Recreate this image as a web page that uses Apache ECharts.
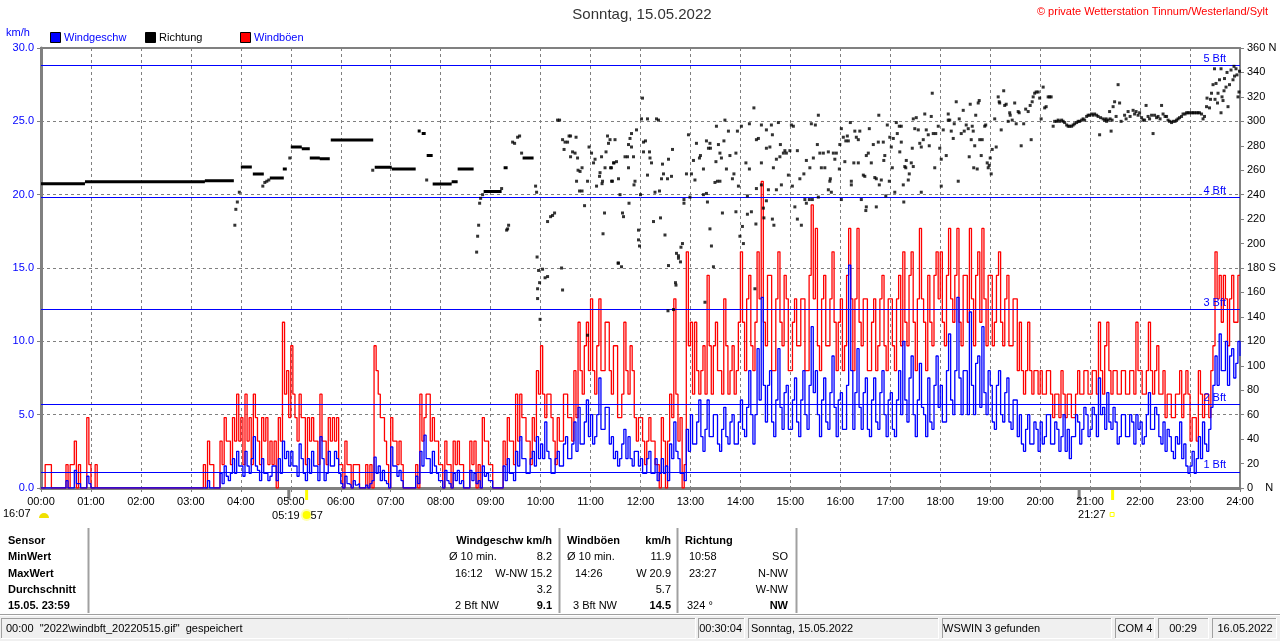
<!DOCTYPE html>
<html><head><meta charset="utf-8">
<script src="https://cdn.jsdelivr.net/npm/echarts/dist/echarts.min.js"></script>
<style>html,body{margin:0;padding:0;background:#fff;overflow:hidden}#c{width:1280px;height:641px}</style>
</head><body><div id="c"></div>
<script>
// ---------- DATA ----------
const stepMinutes = 2.5; // one value every 2.5 minutes, 00:00 .. 24:00 (24 values per hour row)
const windSpeed = [
0,0,0,0,0,0,0,0,0,0,0,0,0.5,0,0,0,1.2,0.3,0.3,0,0,0,0.8,0.3,
0,0,0,0,0,0,0,0,0,0,0,0,0,0,0,0,0,0,0,0,0,0,0,0,
0,0,0,0,0,0,0,0,0,0,0,0,0,0,0,0,0,0,0,0,0,0,0,0,
0,0,0,0,0,0,0,0,0.5,0,0,0,0,0,1.0,0.3,1.5,0.8,0.5,1.0,2.0,1.0,2.5,1.5,
1.5,0.8,2.5,1.5,1.0,2.0,3.5,1.5,1.2,0.5,2.0,1.0,1.0,0.5,0.8,1.5,1.5,0.5,2.0,1.0,3.2,2.0,2.5,1.5,
2.5,1.5,1.5,0.8,3.0,2.0,1.0,0.5,2.0,1.0,2.5,1.5,1.5,0.5,3.5,2.0,0.5,1.0,2.5,1.5,1.5,2.5,2.0,1.0,
0.3,0,0.8,0.3,0.2,0,0.5,0.2,0.3,0,0,0,0.2,0,0.3,0.5,2.1,1.0,1.5,0.5,1.2,0.5,0.3,0,
2.8,1.5,1.5,0.8,1.2,0.5,0,0,0,0,0,0,0.8,0.3,2.5,1.5,3.6,2.0,2.0,1.0,2.5,1.5,1.0,0.5,
0.5,0,1.2,0.5,0.3,0,1.0,0.5,1.2,0.3,0.5,0,0,0,1.2,0.5,1.0,0.3,0.5,0,1.5,0.8,1.0,0.5,
0.5,0,0,0,0,0,1.5,0.5,2.0,1.0,1.0,0.5,2.5,1.5,3.5,2.0,2.0,1.0,1.0,2.0,2.5,1.5,3.5,2.0,
3.0,2.0,4.5,2.5,2.0,1.0,1.0,2.0,2.5,1.5,1.5,3.0,3.5,2.0,2.0,3.0,4.5,2.5,5.5,3.0,3.0,4.5,6.0,3.5,
5.0,3.0,3.5,5.0,7.5,4.0,4.0,5.5,5.5,3.0,3.5,2.0,2.5,1.5,2.0,3.0,4.0,2.0,3.5,2.0,1.5,2.5,2.5,1.5,
2.0,1.0,1.0,2.0,2.5,1.0,1.0,2.0,0.5,1.0,2.0,1.0,1.5,0.5,3.0,2.0,4.5,2.5,2.0,1.0,1.0,0.5,4.0,2.5,
5.0,3.0,3.0,4.5,6.0,3.5,2.5,4.0,6.0,3.5,3.5,5.0,5.0,3.0,2.5,4.0,5.5,3.5,3.0,4.5,5.0,3.0,3.0,4.5,
6.0,4.0,3.5,5.5,8.0,5.0,3.0,5.0,9.5,6.0,13.0,7.0,4.5,7.0,8.0,4.5,3.5,6.0,9.5,5.5,4.0,6.5,7.0,4.0,
4.0,6.0,7.5,4.5,3.5,6.0,8.0,5.0,4.0,7.0,11.0,6.5,8.0,5.0,3.5,6.0,7.5,4.5,4.0,6.5,9.0,5.5,3.5,6.0,
6.5,4.0,4.0,7.0,15.2,8.0,4.0,6.5,9.5,5.5,4.0,6.5,7.5,4.0,3.5,6.0,7.5,4.5,4.0,6.5,8.0,5.0,3.5,6.0,
6.5,4.0,3.5,6.0,8.0,5.0,10.0,6.0,4.5,7.5,9.0,5.0,3.5,6.0,8.5,5.5,5.0,3.5,7.5,4.5,4.0,7.0,9.0,5.5,
7.0,4.5,4.5,8.0,10.5,6.0,5.0,8.0,13.0,7.5,5.0,8.0,8.0,5.0,12.0,7.0,5.0,8.5,9.0,5.5,11.0,6.5,5.0,8.0,
7.0,4.5,4.0,7.0,8.0,5.0,4.5,6.5,7.5,4.5,4.0,6.0,6.0,3.5,5.0,3.0,2.5,4.0,5.0,3.0,3.0,4.5,4.0,2.5,
4.5,3.0,3.5,5.0,5.0,3.0,3.0,4.5,4.0,2.5,3.5,5.0,2.5,4.0,2.0,3.5,3.5,5.0,4.5,3.0,4.0,5.5,5.0,3.5,
4.0,5.5,5.0,3.5,7.5,5.0,5.5,4.0,6.5,4.5,4.0,5.5,4.5,3.0,3.5,5.0,5.0,3.5,3.5,5.0,4.5,3.0,5.0,4.0,
4.5,3.0,3.5,5.0,6.5,4.0,4.0,5.5,5.0,3.5,3.0,4.5,2.5,4.0,3.5,2.5,2.0,3.5,3.0,4.5,2.0,3.0,1.5,1.0,
1.5,2.5,1.0,2.0,3.5,2.0,4.5,3.0,2.5,4.0,5.5,7.0,9.0,7.0,10.5,8.0,8.0,10.0,7.0,9.0,9.5,7.5,8.5,10.0,
9.0];
const windGust = [
0,0,1.6,1.6,1.6,0,0,0,0,0,0,0,1.6,0,1.6,1.6,3.2,0,1.6,0,0,0,4.8,1.6,
0,0,1.6,0,0,0,0,0,0,0,0,0,0,0,0,0,0,0,0,0,0,0,0,0,
0,0,0,0,0,0,0,0,0,0,0,0,0,0,0,0,0,0,0,0,0,0,0,0,
0,0,0,0,0,0,1.6,0,3.2,1.6,1.6,0,0,0,3.2,1.6,4.8,3.2,3.2,1.6,4.8,3.2,6.4,3.2,
4.8,1.6,6.4,3.2,4.8,1.6,6.4,4.8,3.2,1.6,4.8,3.2,4.8,1.6,3.2,1.6,3.2,0,4.8,3.2,11.3,6.4,8.0,4.8,
9.7,6.4,4.8,3.2,6.4,4.8,4.8,1.6,4.8,3.2,4.8,3.2,3.2,1.6,6.4,3.2,3.2,1.6,4.8,3.2,4.8,3.2,4.8,1.6,
1.6,0,3.2,1.6,1.6,0,1.6,1.6,1.6,0,0,0,1.6,0,1.6,0,9.7,8.0,6.4,4.8,4.8,3.2,1.6,0,
4.8,3.2,3.2,1.6,3.2,1.6,0,0,0,0,0,0,1.6,0,6.4,3.2,4.8,6.4,6.4,3.2,4.8,3.2,3.2,1.6,
1.6,0,3.2,1.6,1.6,0,3.2,1.6,3.2,1.6,1.6,0,0,0,3.2,1.6,3.2,0,1.6,0,4.8,3.2,3.2,1.6,
1.6,0,0,0,0,0,3.2,1.6,4.8,3.2,3.2,1.6,6.4,3.2,6.4,4.8,4.8,3.2,3.2,1.6,4.8,3.2,8.0,6.4,
9.7,6.4,4.8,6.4,6.4,4.8,3.2,1.6,4.8,3.2,3.2,6.4,6.4,4.8,4.8,3.2,8.0,4.8,11.3,8.0,6.4,9.7,11.3,8.0,
12.9,8.0,6.4,9.7,12.9,8.0,8.0,11.3,11.3,8.0,6.4,9.7,9.7,4.8,4.8,6.4,11.3,8.0,6.4,9.7,8.0,4.8,3.2,4.8,
4.8,3.2,1.6,3.2,4.8,3.2,3.2,1.6,1.6,0,4.8,3.2,0,3.2,6.4,4.8,12.9,6.4,3.2,4.8,0,1.6,16.1,9.7,
11.3,6.4,11.3,8.0,6.4,8.0,9.7,6.4,14.5,9.7,6.4,9.7,11.3,8.0,8.0,6.4,12.9,9.7,6.4,8.0,9.7,6.4,8.0,11.3,
16.1,11.3,8.0,12.9,14.5,9.7,8.0,11.3,16.1,12.9,20.9,11.3,9.7,14.5,14.5,8.0,8.0,12.9,16.1,11.3,9.7,14.5,12.9,8.0,
8.0,11.3,12.9,9.7,9.7,12.9,12.9,8.0,8.0,14.5,19.3,12.9,17.7,9.7,8.0,12.9,14.5,9.7,9.7,12.9,16.1,11.3,8.0,11.3,
12.9,8.0,9.7,14.5,17.7,12.9,8.0,12.9,17.7,11.3,9.7,12.9,12.9,8.0,8.0,11.3,12.9,8.0,9.7,12.9,14.5,9.7,8.0,12.9,
12.9,9.7,8.0,12.9,14.5,9.7,16.1,11.3,9.7,14.5,16.1,11.3,8.0,12.9,17.7,12.9,11.3,8.0,14.5,11.3,9.7,14.5,16.1,12.9,
16.1,11.3,9.7,14.5,17.7,12.9,11.3,14.5,17.7,11.3,9.7,14.5,14.5,11.3,17.7,12.9,9.7,14.5,16.1,11.3,17.7,12.9,9.7,14.5,
14.5,9.7,11.3,14.5,16.1,11.3,9.7,12.9,14.5,9.7,9.7,12.9,12.9,8.0,11.3,8.0,6.4,8.0,11.3,8.0,6.4,8.0,8.0,6.4,
8.0,6.4,6.4,8.0,8.0,6.4,4.8,6.4,6.4,4.8,8.0,6.4,4.8,6.4,6.4,4.8,4.8,6.4,8.0,6.4,6.4,8.0,8.0,6.4,
6.4,8.0,8.0,6.4,11.3,8.0,6.4,9.7,11.3,8.0,6.4,8.0,8.0,6.4,6.4,8.0,8.0,6.4,6.4,8.0,8.0,6.4,11.3,8.0,
8.0,6.4,6.4,8.0,11.3,8.0,6.4,8.0,9.7,6.4,6.4,8.0,4.8,6.4,6.4,4.8,4.8,6.4,6.4,8.0,4.8,6.4,8.0,6.4,
3.2,4.8,4.8,3.2,8.0,6.4,4.8,6.4,6.4,4.8,8.0,9.7,16.1,12.9,14.5,11.3,14.5,12.9,9.7,12.9,14.5,11.3,11.3,14.5,
14.5];
// steady wind-direction stretches: start hour, end hour, degrees
const dirSegStart = [0.00,0.88,3.28,4.00,4.24,4.58,4.84,5.00,5.22,5.38,5.58,5.80,6.68,7.02,7.54,7.62,7.72,7.84,8.22,8.34,8.86,9.26,9.64];
const dirSegEnd   = [0.88,3.28,3.86,4.22,4.46,4.86,4.92,5.22,5.38,5.58,5.78,6.65,7.02,7.50,7.60,7.70,7.84,8.22,8.34,8.66,9.22,9.34,9.86];
const dirSegDeg   = [249,250.6,251.4,262.6,257,253.6,261,279,277.6,270,269.4,284.8,262.4,261,292,290,272,248.7,250.6,261,242.5,262,270];
// single wind-direction readings: [hour, degrees]
const dirPoints = [
[3.88,215],[3.90,228],[3.93,234],[3.97,242],[4.44,247],[4.48,250],[4.52,251],[4.56,252],[4.98,270],
[6.64,260],[7.72,252],[8.72,193],[8.74,206],[8.76,215],[8.78,233],[8.80,237],[8.84,240],
[9.22,245],[9.32,211],[9.34,212],[9.36,215],[9.44,283],[9.48,282],[9.54,287],[9.58,288],[9.62,274],
[9.90,247],[9.92,242],[9.93,189],[9.96,178],[9.98,168],[9.94,163],[9.94,155],[9.99,138],
[10.04,179],[10.09,172],[10.14,173],[10.14,218],[10.20,222],[10.24,223],[10.28,225],[10.34,301],[10.38,301],
[10.42,180],[10.44,162],[10.44,285],[10.49,283],[10.54,283],[10.57,288],[10.60,288],[10.71,287],[10.47,277],
[10.64,275],[10.69,274],[10.60,271],[10.74,270],[10.75,260],[10.79,259],[10.83,262],[10.72,251],[10.78,243],
[10.83,243],[10.88,231],[10.94,251],[10.97,279],[11.02,274],[11.06,266],[11.09,269],[11.12,247],[11.18,255],
[11.19,258],[11.22,271],[11.23,249],[11.24,251],[11.28,225],[11.29,262],[11.31,275],[11.34,288],[11.36,282],
[11.39,285],[11.40,262],[11.44,251],[11.46,266],[11.49,285],[11.52,267],[11.56,253],[11.25,208],[10.94,125],[11.56,184],
[12.04,319],[12.02,302],[12.14,302],[12.32,302],[12.36,301],[11.82,290],[11.92,293],[11.79,286],[11.76,281],
[11.82,279],[12.06,283],[12.10,284],[12.18,275],[12.06,275],[11.69,271],[11.74,271],[11.86,271],[12.19,270],
[12.22,266],[11.47,266],[11.42,262],[11.76,262],[11.42,251],[11.89,251],[11.87,248],[12.14,256],[12.44,265],
[12.46,257],[12.42,253],[12.54,253],[12.62,255],[12.64,277],[12.56,269],[12.29,242],[12.38,243],[12.00,240],
[11.59,240],[11.77,233],[12.96,289],[12.92,257],[13.02,257],[13.06,268],[13.09,252],[13.12,282],[13.18,270],
[13.20,272],[13.26,261],[13.32,284],[13.39,282],[13.36,278],[13.40,278],[13.52,296],[13.56,281],[13.59,274],
[13.51,267],[13.62,270],[13.59,251],[13.54,251],[13.49,250],[13.32,241],[13.26,240],[13.69,301],[13.76,292],
[13.67,284],[13.79,272],[13.72,261],[13.87,257],[13.84,253],[13.91,274],[13.94,292],[14.02,296],[13.96,247],
[14.14,239],[14.18,298],[14.27,311],[14.32,285],[14.36,286],[14.42,297],[14.52,293],[14.62,297],[14.64,289],
[14.52,278],[14.59,279],[14.76,299],[14.80,281],[14.89,276],[14.86,274],[14.92,274],[14.79,271],[14.72,269],
[14.66,262],[14.42,266],[14.11,266],[14.18,261],[14.32,245],[14.42,248],[14.56,244],[14.72,244],[14.82,248],
[14.96,256],[15.02,297],[15.06,296],[14.99,276],[15.14,276],[15.04,247],[15.19,253],[15.27,257],[15.32,268],
[15.39,262],[15.42,298],[15.46,270],[15.50,297],[15.54,281],[15.56,305],[15.59,274],[15.66,274],[15.62,262],
[15.69,262],[15.76,275],[15.79,251],[15.80,253],[15.76,244],[15.82,242],[15.86,274],[15.89,269],[15.92,274],
[15.98,261],[15.99,281],[16.02,294],[16.06,287],[16.09,267],[16.11,284],[16.16,284],[16.14,288],[16.20,299],
[16.22,251],[16.22,248],[16.29,292],[16.32,287],[16.39,292],[16.36,285],[16.27,266],[16.36,266],[16.46,256],
[16.49,255],[16.52,272],[16.56,274],[16.58,294],[16.62,266],[16.66,281],[16.69,254],[16.72,253],[16.76,283],
[16.77,305],[16.78,248],[16.82,252],[16.86,283],[16.87,268],[16.89,272],[16.94,297],[16.99,287],[17.02,279],
[17.04,262],[16.98,251],[17.06,286],[17.12,299],[17.14,290],[17.19,275],[17.22,283],[17.31,262],[17.27,234],
[17.09,242],[16.91,239],[17.18,296],
[11.64,225],[11.66,222],[11.96,211],[11.96,203],[11.98,198],[12.26,218],[12.40,221],[12.49,207],[12.56,182],
[12.72,192],[12.76,190],[12.76,188],[12.80,185],[12.84,200],[12.81,197],[12.87,236],[12.87,233],[12.99,238],
[12.70,168],[12.71,166],[12.55,145],[12.66,146],[13.39,212],[13.42,198],[13.46,181],[13.34,234],[13.29,152],
[13.64,225],[13.91,226],[13.99,206],[14.04,214],[14.06,200],[14.14,224],[14.22,226],[14.31,216],[14.46,229],
[14.47,221],[14.52,235],[14.64,220],[14.67,215],[15.09,230],[15.14,220],[15.22,215],[15.29,236],[15.38,236],
[15.44,236],[15.32,233],[15.56,238],[16.52,230],[16.51,227],[16.72,230],[16.42,236],[16.02,236],[11.55,184],
[11.62,181],[14.29,163],
[17.22,296],[17.29,263],[17.32,268],[17.36,252],[17.26,248],[17.46,302],[17.52,303],[17.49,294],[17.56,293],
[17.42,266],[17.46,263],[17.38,257],[17.44,278],[17.59,282],[17.62,279],[17.66,285],[17.69,306],[17.62,242],
[17.72,293],[17.76,289],[17.78,280],[17.84,323],[17.82,304],[17.86,290],[17.89,262],[17.91,290],[17.96,296],
[17.99,278],[18.02,247],[18.02,269],[18.06,293],[18.12,272],[18.16,301],[18.19,301],[18.16,306],[18.22,292],
[18.26,286],[18.28,298],[18.32,316],[18.36,251],[18.38,302],[18.42,290],[18.46,309],[18.48,292],[18.52,297],
[18.56,294],[18.58,271],[18.60,314],[18.62,285],[18.64,296],[18.66,292],[18.67,262],[18.69,280],[18.71,305],
[18.76,315],[18.74,261],[18.78,317],[18.79,285],[18.82,272],[18.84,285],[18.89,296],[18.91,297],[18.94,266],
[18.96,262],[18.98,264],[19.00,270],[19.02,257],[19.04,277],[19.09,302],[19.12,279],[19.16,320],[19.18,316],
[19.19,315],[19.22,293],[19.27,325],[19.29,313],[19.32,314],[19.36,300],[19.39,307],[19.40,305],[19.44,301],
[19.49,315],[19.52,298],[19.56,308],[19.58,307],[19.62,280],[19.67,298],[19.71,310],[19.76,308],[19.80,313],
[19.82,285],[19.84,316],[19.86,320],[19.89,323],[19.92,324],[19.96,324],[19.99,319],[20.02,302],[20.06,328],
[20.09,311],[20.12,312],[20.16,320],[20.19,320],[20.22,320],[20.26,296],
[20.29,300],[20.33,300],[20.36,301],[20.39,300],[20.43,301],[20.46,300],[20.49,299],[20.53,297],[20.56,296],
[20.59,296],[20.63,296],[20.66,297],[20.69,298],[20.73,299],[20.76,300],[20.79,300],[20.83,301],[20.86,302],
[20.89,301],[20.93,304],[20.96,305],[20.99,305],[21.03,306],[21.06,305],[21.09,306],[21.13,305],[21.16,304],
[21.21,303],[21.26,302],[21.29,301],[21.33,300],[21.36,301],[21.40,302],[21.44,301],
[21.19,289],[21.32,302],[21.39,308],[21.42,292],[21.46,312],[21.49,316],[21.52,304],[21.56,330],[21.59,315],
[21.62,300],[21.69,305],[21.72,302],[21.76,308],[21.80,304],[21.86,309],[21.89,306],[21.92,308],[21.96,305],
[21.99,307],[22.03,303],[22.06,301],[22.09,301],[22.12,313],[22.16,304],[22.19,302],[22.23,305],[22.26,290],
[22.29,305],[22.33,303],[22.36,304],[22.40,302],[22.43,313],[22.46,306],[22.50,304],
[22.53,304],[22.56,301],[22.59,300],[22.63,299],[22.66,300],[22.70,300],[22.73,301],[22.76,302],[22.79,303],
[22.83,304],[22.86,306],[22.90,306],[22.93,307],[22.96,307],[22.99,307],[23.03,307],[23.06,307],[23.09,307],
[23.13,307],[23.16,307],[23.19,307],[23.23,306],[23.26,302],[23.29,304],
[23.33,312],[23.34,319],[23.39,311],[23.43,323],[23.46,330],[23.49,343],[23.52,331],[23.56,323],[23.59,334],
[23.62,343],[23.62,307],[23.64,320],[23.66,317],[23.69,335],[23.72,328],[23.76,312],[23.79,330],[23.82,342],
[23.86,334],[23.89,337],[23.92,343],[23.96,320],[23.98,324],[23.99,341],[23.41,318],[23.50,318],[23.55,315],
[23.68,325],[23.74,340],[23.88,345],[23.94,338]];
const bftLevels = [1.1, 5.7, 12.2, 19.8, 28.8];
const bftNames  = ['1 Bft','2 Bft','3 Bft','4 Bft','5 Bft'];
const dirTickNames = {360:'360 N', 180:'180 S', 0:'0    N'};
const sunriseHour = 5 + 19/60, sunsetHour = 21 + 27/60;
const moonMarks = [4.96, 20.78];

// ---------- CHART ----------
const FONT = '"Liberation Sans", Arial, sans-serif';
const chart = echarts.init(document.getElementById('c'), null, {renderer:'canvas'});
const toXY = (arr) => arr.map((v,i) => [i*stepMinutes/60, v]);
const segData = [];
dirSegStart.forEach((s,i) => { segData.push([s, dirSegDeg[i]], [dirSegEnd[i], dirSegDeg[i]], [dirSegEnd[i], '-']); });
const pad = n => (n < 10 ? '0' : '') + n;

chart.setOption({
  animation:false,
  backgroundColor:'#ffffff',
  grid:{left:41, top:48, width:1199, height:440, show:true, borderColor:'#808080', borderWidth:2, backgroundColor:'transparent'},
  xAxis:{type:'value', min:0, max:24, interval:1,
    axisLine:{lineStyle:{color:'#808080', width:3}},
    axisTick:{show:true, length:4, lineStyle:{color:'#808080'}},
    axisLabel:{formatter:v => pad(v)+':00', color:'#000', fontSize:11, fontFamily:FONT, margin:8},
    splitLine:{show:true, lineStyle:{color:'#808080', type:[3,3], width:1}}},
  yAxis:[
    {type:'value', min:0, max:30, interval:5, position:'left',
     axisLine:{show:true, lineStyle:{color:'#808080', width:3}},
     axisTick:{show:true, length:4, lineStyle:{color:'#808080'}},
     axisLabel:{formatter:v => v.toFixed(1), color:'#0000ff', fontSize:11, fontFamily:FONT, margin:7},
     splitLine:{show:true, lineStyle:{color:'#808080', type:[3,3], width:1}}},
    {type:'value', min:0, max:360, interval:20, position:'right',
     axisLine:{show:true, lineStyle:{color:'#808080', width:2}},
     axisTick:{show:true, length:4, lineStyle:{color:'#808080'}},
     axisLabel:{formatter:v => dirTickNames[v] !== undefined ? dirTickNames[v] : String(v), color:'#000', fontSize:11, fontFamily:FONT, margin:7},
     splitLine:{show:false}}
  ],
  series:[
    {name:'Windböen', type:'line', step:'end', data:toXY(windGust), yAxisIndex:0, showSymbol:false, symbol:'none',
     lineStyle:{color:'#ff0000', width:1.3}, z:2},
    {name:'Windgeschw', type:'line', step:'end', data:toXY(windSpeed), yAxisIndex:0, showSymbol:false, symbol:'none',
     lineStyle:{color:'#0000ff', width:1.3}, z:3},
    {name:'Bft', type:'line', data:[], yAxisIndex:0, z:3,
     markLine:{silent:true, symbol:'none', animation:false,
       lineStyle:{color:'#0000ff', type:'solid', width:1},
       label:{show:true, position:'insideEndTop', formatter:p => p.name, color:'#0000ff', fontSize:11, fontFamily:FONT, distance:[14,1]},
       data: bftLevels.map((v,i) => ({yAxis:v, name:bftNames[i], lineStyle:{color:'#0000ff', width:1, type:'solid'}}))}},
    {name:'RichtungLinie', type:'line', data:segData, yAxisIndex:1, showSymbol:false, symbol:'none', connectNulls:false,
     lineStyle:{color:'#000', width:3}, z:4},
    {name:'Richtung', type:'scatter', data:dirPoints, yAxisIndex:1, symbol:'rect', symbolSize:3,
     itemStyle:{color:'#000'}, z:5}
  ]
});

// ---------- TEXT / DECOR ----------
const T = (text, x, y, o) => ({type:'text', silent:true, style:Object.assign({text, x, y, fill:'#000', font:'11px '+FONT, textVerticalAlign:'middle'}, o||{})});
const B = (text, x, y, o) => T(text, x, y, Object.assign({font:'bold 11px '+FONT}, o||{}));
const L = (x1,y1,x2,y2,c,w) => ({type:'line', silent:true, shape:{x1,y1,x2,y2}, style:{stroke:c, lineWidth:w||1}});
const R = (x,y,w,h,fill,stroke) => ({type:'rect', silent:true, shape:{x,y,width:w,height:h}, style:{fill, stroke:stroke||null, lineWidth:1}});

const g = [];
g.push(T('Sonntag, 15.05.2022', 642, 15, {font:'15px '+FONT, textAlign:'center', fill:'#333'}));
g.push(T('\u00a9 private Wetterstation Tinnum/Westerland/Sylt', 1268, 12, {textAlign:'right', fill:'#ff0000'}));
g.push(T('km/h', 6, 33, {fill:'#0000ff'}));
g.push(R(50.5,32.5,10,10,'#0000ff','#000'));
g.push(T('Windgeschw', 64, 38, {fill:'#0000ff'}));
g.push(R(145.5,32.5,10,10,'#000','#000'));
g.push(T('Richtung', 159, 38, {fill:'#000'}));
g.push(R(240.5,32.5,10,10,'#ff0000','#000'));
g.push(T('Windböen', 254, 38, {fill:'#0000ff'}));

const px = h => chart.convertToPixel({xAxisIndex:0}, h);
moonMarks.forEach(h => g.push(R(px(h)-1.5, 489, 3, 11, '#808080')));
g.push(R(px(sunriseHour)-1.5, 489, 3, 11, '#ffff00'));
g.push(R(px(sunsetHour)-1.5, 489, 3, 11, '#ffff00'));
g.push(T('16:07', 3, 514));
g.push({type:'sector', silent:true, shape:{cx:44, cy:518, r0:0, r:5, startAngle:Math.PI, endAngle:2*Math.PI}, style:{fill:'#f0e000'}});
g.push(T('05:19', px(sunriseHour)-7, 516, {textAlign:'right'}));
g.push({type:'circle', silent:true, shape:{cx:px(sunriseHour), cy:515, r:6}, style:{fill:'#ffffb0'}});
g.push({type:'circle', silent:true, shape:{cx:px(sunriseHour), cy:515, r:4}, style:{fill:'#ffff00'}});
g.push(T('57', px(sunriseHour)+4, 516));
g.push(T('21:27', px(sunsetHour)-7, 515, {textAlign:'right'}));
g.push(R(px(sunsetHour)-2.5, 512.5, 4, 4, null, '#ffff00'));

const rows = [541, 557, 574, 590, 606];
['Sensor','MinWert','MaxWert','Durchschnitt','15.05. 23:59'].forEach((t,i) => g.push(B(t, 8, rows[i])));
[88, 559, 677, 796].forEach(x => g.push(L(x+0.5, 528, x+0.5, 613, '#a0a0a0', 2)));
g.push(B('Windgeschw km/h', 552, rows[0], {textAlign:'right'}));
g.push(T('\u00d8 10 min.', 449, rows[1])); g.push(T('8.2', 552, rows[1], {textAlign:'right'}));
g.push(T('16:12', 455, rows[2])); g.push(T('W-NW 15.2', 552, rows[2], {textAlign:'right'}));
g.push(T('3.2', 552, rows[3], {textAlign:'right'}));
g.push(T('2 Bft NW', 455, rows[4])); g.push(B('9.1', 552, rows[4], {textAlign:'right'}));
g.push(B('Windböen', 567, rows[0])); g.push(B('km/h', 671, rows[0], {textAlign:'right'}));
g.push(T('\u00d8 10 min.', 567, rows[1])); g.push(T('11.9', 671, rows[1], {textAlign:'right'}));
g.push(T('14:26', 575, rows[2])); g.push(T('W 20.9', 671, rows[2], {textAlign:'right'}));
g.push(T('5.7', 671, rows[3], {textAlign:'right'}));
g.push(T('3 Bft NW', 573, rows[4])); g.push(B('14.5', 671, rows[4], {textAlign:'right'}));
g.push(B('Richtung', 685, rows[0]));
g.push(T('10:58', 689, rows[1])); g.push(T('SO', 788, rows[1], {textAlign:'right'}));
g.push(T('23:27', 689, rows[2])); g.push(T('N-NW', 788, rows[2], {textAlign:'right'}));
g.push(T('W-NW', 788, rows[3], {textAlign:'right'}));
g.push(T('324 \u00b0', 687, rows[4])); g.push(B('NW', 788, rows[4], {textAlign:'right'}));

g.push(R(0, 614, 1280, 27, '#f0f0f0'));
g.push(L(0, 614.5, 1280, 614.5, '#a0a0a0', 1));
g.push(L(0, 615.5, 1280, 615.5, '#ffffff', 1));
const panels = [[1,696],[698,745],[748,939],[942,1112],[1115,1155],[1158,1209],[1212,1277]];
panels.forEach(([a,b]) => {
  g.push(L(a+0.5, 618, a+0.5, 638, '#a0a0a0', 1));
  g.push(L(a, 618.5, b, 618.5, '#a0a0a0', 1));
  g.push(L(b-0.5, 618, b-0.5, 639, '#ffffff', 1));
  g.push(L(a, 638.5, b, 638.5, '#ffffff', 1));
});
g.push(T('00:00  "2022\\windbft_20220515.gif"  gespeichert', 6, 629));
g.push(T('00:30:04', 742, 629, {textAlign:'right'}));
g.push(T('Sonntag, 15.05.2022', 751, 629));
g.push(T('WSWIN 3 gefunden', 943, 629));
g.push(T('COM 4', 1135, 629, {textAlign:'center'}));
g.push(T('00:29', 1183, 629, {textAlign:'center'}));
g.push(T('16.05.2022', 1245, 629, {textAlign:'center'}));

chart.setOption({graphic:{elements:g}});
</script></body></html>
